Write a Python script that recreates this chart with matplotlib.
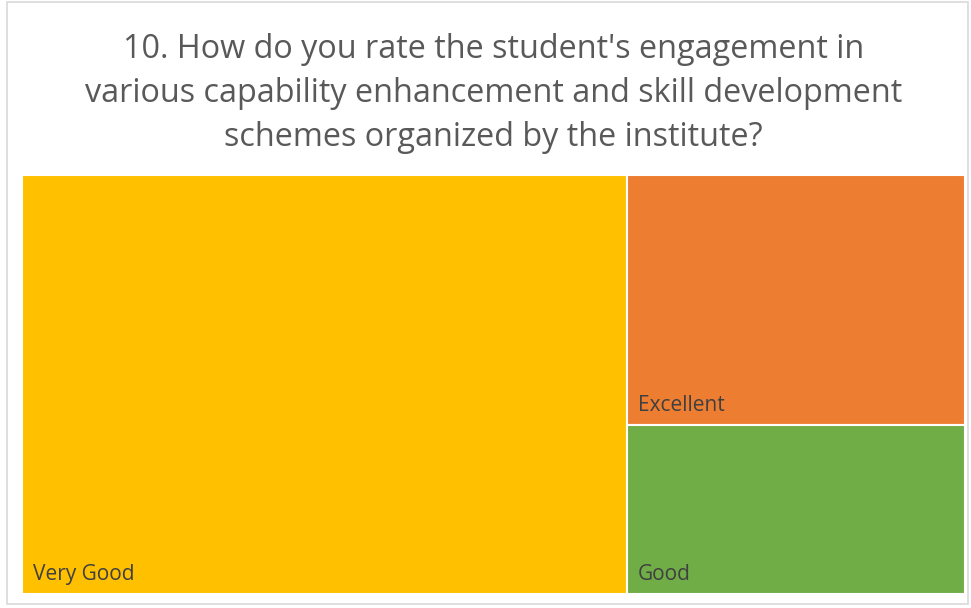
import matplotlib
matplotlib.use('Agg')
import matplotlib.pyplot as plt
from matplotlib.patches import Rectangle

categories = ["Very Good", "Excellent", "Good"]
values = [120, 40, 27]
colors = ["#FFC000", "#ED7D31", "#70AD47"]

title = ("10. How do you rate the student's engagement in\n"
         "various capability enhancement and skill development\n"
         "schemes organized by the institute?")

plt.rcParams['font.family'] = ['Open Sans', 'DejaVu Sans']

fig = plt.figure(figsize=(9.71, 6.08), dpi=100)
fig.patches.append(Rectangle((0.007, 0.006), 0.99, 0.99, transform=fig.transFigure,
                             fill=False, edgecolor='#D9D9D9', linewidth=1.2))

ax = fig.add_axes([0.0227, 0.023, 0.9712, 0.689])
ax.set_xlim(0, 1)
ax.set_ylim(0, 1)
ax.axis('off')

# simple slice layout: the biggest takes a full-height column, the rest stack on the right
total = sum(values)
w0 = values[0] / total
rects = [(0, 0, w0, 1)]
rest = sum(values[1:])
y = 1.0
for v in values[1:]:
    h = v / rest
    y -= h
    rects.append((w0, y, 1 - w0, h))

for (x0, y0, w, h), name, c in zip(rects, categories, colors):
    ax.add_patch(Rectangle((x0, y0), w, h, facecolor=c, edgecolor='white', linewidth=1.5))
    ax.text(x0 + 0.0115, y0 + 0.022, name, fontsize=15, color='#404040',
            ha='left', va='bottom')

fig.text(0.508, 0.846, title, ha='center', va='center', fontsize=23.3,
         color='#595959', linespacing=1.44)

fig.savefig('out.png', dpi=100)
